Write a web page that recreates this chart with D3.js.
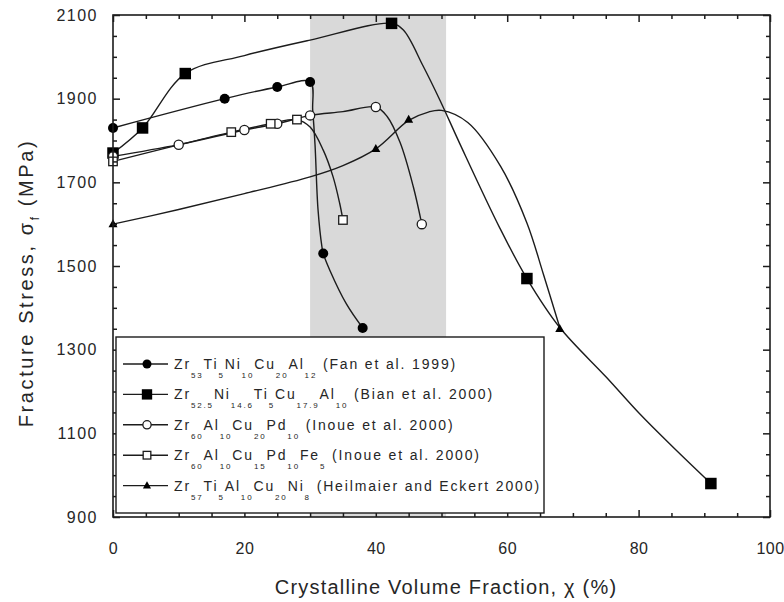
<!DOCTYPE html>
<html><head><meta charset="utf-8">
<script src="https://cdn.jsdelivr.net/npm/d3@7"></script>
<style>
body{margin:0;background:#fff}
svg{display:block}
text{font-family:"Liberation Sans",Arial,Helvetica,sans-serif;fill:#262626}
</style>
</head><body>
<svg id="chart" width="784" height="602"></svg>
<script>
// ---------------- data ----------------
const xTicks = [0, 20, 40, 60, 80, 100];
const yTicks = [900, 1100, 1300, 1500, 1700, 1900, 2100];
const xMinorTicks = [5,10,15,25,30,35,45,50,55,65,70,75,85,90,95];
const yMinorTicks = [950,1000,1050,1150,1200,1250,1350,1400,1450,1550,1600,1650,1750,1800,1850,1950,2000,2050];
const shadedBand = [30, 50.7];

// measured points (markers)
const fanPoints   = [[0,1830],[17,1900],[25,1928],[30,1940],[32,1530],[38,1352]];
const bianPoints  = [[0,1770],[4.5,1830],[11,1960],[42.4,2080],[63,1470],[91,980]];
const inoueAPoints= [[0,1762],[10,1790],[20,1825],[25,1840],[30,1860],[40,1880],[47,1600]];
const inoueBPoints= [[0,1750],[18,1820],[24,1840],[28,1850],[35,1610]];
const heilPoints  = [[0,1600],[40,1780],[45,1850],[68,1350]];

// traces of the drawn curves
const fanCurve    = [[0,1830],[17,1900],[25,1928],[30,1940],[30.4,1872],[30.75,1790],[31.2,1636],[31.8,1546],[32,1530],[33,1490],[35.5,1410],[38,1352]];
const bianCurve   = [[0,1770],[4.5,1830],[11,1960],[20,2003],[30,2040],[42.4,2080],[44.2,2064],[47.2,1978],[49.8,1895],[52.8,1792],[58.9,1590],[63,1470],[68,1353],[75.1,1234],[80.2,1146],[85.3,1066],[91,980]];
const inoueACurve = [[0,1762],[10,1790],[20,1825],[25,1840],[30,1860],[35,1869],[40,1880],[41.7,1858],[43.7,1795],[45.7,1690],[47,1600]];
const inoueBCurve = [[0,1750],[18,1820],[24,1840],[28,1850],[30,1832],[32,1777],[33.5,1713],[34.5,1650],[35,1610]];
const heilCurve   = [[0,1600],[10,1635],[20,1673],[30,1713],[35,1740],[40,1780],[45,1848],[48,1868],[50,1872],[54,1843],[59,1738],[63,1603],[65.5,1481],[68,1353]];

const legendFormulas = [
  [["Zr","53"],["Ti","5"],["Ni","10"],["Cu","20"],["Al","12"]],
  [["Zr","52.5"],["Ni","14.6"],["Ti","5"],["Cu","17.9"],["Al","10"]],
  [["Zr","60"],["Al","10"],["Cu","20"],["Pd","10"]],
  [["Zr","60"],["Al","10"],["Cu","15"],["Pd","10"],["Fe","5"]],
  [["Zr","57"],["Ti","5"],["Al","10"],["Cu","20"],["Ni","8"]]
];
const legendRefs = ["(Fan et al. 1999)","(Bian et al. 2000)","(Inoue et al. 2000)","(Inoue et al. 2000)","(Heilmaier and Eckert 2000)"];
const markerTypes = ["circleFilled","squareFilled","circleOpen","squareOpen","triangleFilled"];
const xTitle = "Crystalline Volume Fraction, \u03C7 (%)";
const yTitleMain = "Fracture Stress, \u03C3";
const yTitleSub = "f";
const yTitleEnd = " (MPa)";

// ---------------- drawing ----------------
const svg = d3.select("#chart");
const W = 784, H = 602;
const m = {left:113, right:14, top:15, bottom:85};
const x = d3.scaleLinear().domain([0,100]).range([m.left, W - m.right]);
const y = d3.scaleLinear().domain([900,2100]).range([H - m.bottom, m.top]);
const ink = "#1c1c1c";

// shaded band
svg.append("rect")
  .attr("x", x(shadedBand[0])).attr("y", y(2100))
  .attr("width", x(shadedBand[1]) - x(shadedBand[0]))
  .attr("height", y(900) - y(2100))
  .attr("fill", "#d9d9d9");

// curves
const line = d3.line().x(d => x(d[0])).y(d => y(d[1])).curve(d3.curveCatmullRom.alpha(0.5));
const curves = [fanCurve, bianCurve, inoueACurve, inoueBCurve, heilCurve];
const pointsSets = [fanPoints, bianPoints, inoueAPoints, inoueBPoints, heilPoints];
svg.append("g").selectAll("path").data(curves).join("path")
  .attr("d", line).attr("fill","none").attr("stroke", ink).attr("stroke-width", 1.4);

function marker(g, type, cx, cy, s) {
  s = s || 1;
  if (type === "circleFilled") {
    g.append("circle").attr("cx",cx).attr("cy",cy).attr("r",5*s).attr("fill","#000");
  } else if (type === "squareFilled") {
    const a = 11.5*s;
    g.append("rect").attr("x",cx-a/2).attr("y",cy-a/2).attr("width",a).attr("height",a).attr("fill","#000");
  } else if (type === "circleOpen") {
    g.append("circle").attr("cx",cx).attr("cy",cy).attr("r",4.6*s).attr("fill","#fff").attr("stroke",ink).attr("stroke-width",1.3);
  } else if (type === "squareOpen") {
    const a = 8.5*s;
    g.append("rect").attr("x",cx-a/2).attr("y",cy-a/2).attr("width",a).attr("height",a).attr("fill","#fff").attr("stroke",ink).attr("stroke-width",1.3);
  } else if (type === "triangleFilled") {
    const a = 9*s, h = 8*s;
    g.append("path").attr("d", `M${cx},${cy-h*0.6}L${cx+a/2},${cy+h*0.4}L${cx-a/2},${cy+h*0.4}Z`).attr("fill","#000");
  }
}
const mg = svg.append("g");
pointsSets.forEach((pts, i) => pts.forEach(p => marker(mg, markerTypes[i], x(p[0]), y(p[1]))));

// frame + ticks (inward on all sides)
svg.append("rect").attr("x", x(0)).attr("y", y(2100)).attr("width", x(100)-x(0)).attr("height", y(900)-y(2100))
  .attr("fill","none").attr("stroke", ink).attr("stroke-width",1.6);

function tickAxis(axis, transform) {
  const g = svg.append("g").attr("transform", transform).call(axis);
  g.select(".domain").remove();
  g.selectAll(".tick line").attr("stroke", ink).attr("stroke-width",1.5);
  return g;
}
const bottomAx = tickAxis(d3.axisBottom(x).tickValues(xTicks).tickSize(-7).tickPadding(26).tickFormat(d3.format("d")), `translate(0,${y(900)})`);
tickAxis(d3.axisBottom(x).tickValues(xMinorTicks).tickSize(-4).tickFormat(""), `translate(0,${y(900)})`);
tickAxis(d3.axisTop(x).tickValues(xTicks).tickSize(-7).tickFormat(""), `translate(0,${y(2100)})`);
tickAxis(d3.axisTop(x).tickValues(xMinorTicks).tickSize(-4).tickFormat(""), `translate(0,${y(2100)})`);
const leftAx = tickAxis(d3.axisLeft(y).tickValues(yTicks).tickSize(-7).tickPadding(15).tickFormat(d3.format("d")), `translate(${x(0)},0)`);
tickAxis(d3.axisLeft(y).tickValues(yMinorTicks).tickSize(-4).tickFormat(""), `translate(${x(0)},0)`);
tickAxis(d3.axisRight(y).tickValues(yTicks).tickSize(-7).tickFormat(""), `translate(${x(100)},0)`);
tickAxis(d3.axisRight(y).tickValues(yMinorTicks).tickSize(-4).tickFormat(""), `translate(${x(100)},0)`);
bottomAx.selectAll(".tick text")
  .attr("font-size", 16).attr("fill", "#333").style("letter-spacing","0.5px")
  .attr("font-family", '"Liberation Sans",Arial,sans-serif');
leftAx.selectAll(".tick text")
  .attr("font-size", 16).attr("fill", "#333").style("letter-spacing","1.5px")
  .attr("font-family", '"Liberation Sans",Arial,sans-serif');

// axis titles
svg.append("text").attr("x", 446).attr("y", 594).attr("text-anchor","middle")
  .attr("font-size", 20).style("letter-spacing","1.2px").text(xTitle);
const yt = svg.append("text").attr("transform", "translate(33,283) rotate(-90)").attr("text-anchor","middle")
  .attr("font-size", 20).style("letter-spacing","2.6px");
yt.append("tspan").text(yTitleMain);
yt.append("tspan").attr("dy", 6).attr("font-size", 12).text(yTitleSub);
yt.append("tspan").attr("dy", -6).text(yTitleEnd);

// legend
const lg = svg.append("g");
lg.append("rect").attr("x", 116).attr("y", 337).attr("width", 428).attr("height", 176)
  .attr("fill","#fff").attr("stroke", ink).attr("stroke-width",1.4);
legendFormulas.forEach((f, i) => {
  const cy = 364 + i * 30.4;
  lg.append("line").attr("x1",123).attr("x2",168).attr("y1",cy).attr("y2",cy).attr("stroke",ink).attr("stroke-width",1.4);
  marker(lg, markerTypes[i], 147, cy, 0.9);
  const t = lg.append("text").attr("x", 174).attr("y", cy + 5).attr("font-size", 14).style("letter-spacing","1.85px");
  f.forEach(([el, sub], j) => {
    t.append("tspan").attr("font-size", 14).attr("dy", j === 0 ? 0 : -9).text(el);
    t.append("tspan").attr("font-size", 8).attr("dy", 9).text(sub);
  });
  t.append("tspan").attr("dy", -9).text(" " + legendRefs[i]);
});
</script>
</body></html>
